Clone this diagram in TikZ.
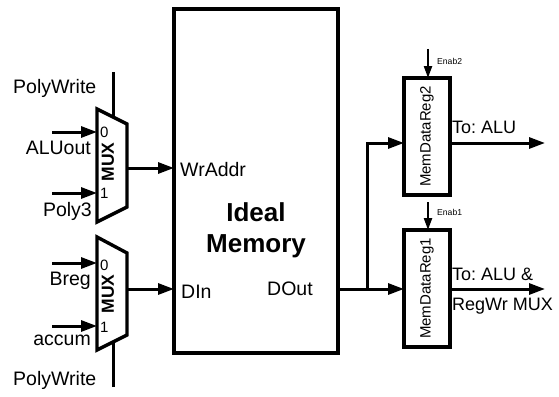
\documentclass[tikz,border=0pt]{standalone}
\usepackage{fontspec}
\setmainfont{Liberation Sans}
\usetikzlibrary{arrows.meta, positioning}
\frenchspacing
\tikzset{
  wire/.style={line width=3pt},
  ar/.style={wire, -{Triangle[length=16pt, width=11pt]}},
  en/.style={line width=2.2pt, -{Triangle[length=12pt, width=8pt]}},
  blk/.style={draw, line width=3.4pt, inner sep=0pt, outer sep=0pt},
  lbl/.style={font=\fontsize{19.5}{23}\selectfont, inner sep=0pt},
  port/.style={font=\fontsize{15}{18}\selectfont, inner sep=0pt},
  tiny lbl/.style={font=\fontsize{8.6}{10}\selectfont, inner sep=0pt},
  muxname/.style={font=\bfseries\fontsize{17.5}{20}\selectfont, rotate=90, inner sep=0pt},
  regname/.style={font=\fontsize{15}{18}\selectfont, rotate=90, inner sep=0pt}
}

\begin{document}
\begin{tikzpicture}[x=1pt, y=-1pt]
  \useasboundingbox (0,0) rectangle (559,396);

  % ---- the ideal memory
  \node[blk, minimum width=164pt, minimum height=344pt] (mem) at (256,181) {};
  \node[font=\bfseries\fontsize{26}{31}\selectfont, align=center, inner sep=0pt]
       (memname) at (256,230) {Ideal\\Memory};
  \node[lbl, anchor=base west] (wraddr) at (180,176) {WrAddr};
  \node[lbl, anchor=base west] (din)    at (181,298) {DIn};
  \node[lbl, anchor=base west] (dout)   at (267,295) {DOut};

  % ---- address mux, select on top
  \draw[blk] (97,109) -- (127,124) -- (127,207) -- (97,222) -- cycle;
  \coordinate (muxW_in0) at (97,132);
  \coordinate (muxW_in1) at (97,193);
  \coordinate (muxW_out) at (127,168);
  \coordinate (muxW_sel) at (113,117);
  \node[muxname] (muxW) at (108,162) {MUX};
  \node[port, anchor=base west] (muxW_0) at (100,137) {0};
  \node[port, anchor=base west] (muxW_1) at (100,198) {1};

  % ---- data mux, select below
  \draw[blk] (97,237) -- (127,253) -- (127,335) -- (97,350) -- cycle;
  \coordinate (muxD_in0) at (97,263);
  \coordinate (muxD_in1) at (97,326);
  \coordinate (muxD_out) at (127,289);
  \coordinate (muxD_sel) at (113,342);
  \node[muxname] (muxD) at (108,294) {MUX};
  \node[port, anchor=base west] (muxD_0) at (100,270) {0};
  \node[port, anchor=base west] (muxD_1) at (100,332) {1};

  % ---- the two memory data registers
  \node[blk, minimum width=46pt, minimum height=117pt] (mdr2) at (427,136.5) {};
  \node[regname] (mdr2txt) at (mdr2) {MemDataReg2};
  \node[blk, minimum width=46pt, minimum height=117pt] (mdr1) at (427,288.5) {};
  \node[regname] (mdr1txt) at (mdr1) {MemDataReg1};

  % ---- labels on the left
  \node[lbl, anchor=base west] (pwtop) at (13,93)  {PolyWrite};
  \node[lbl, anchor=base east] (aluout) at (91,154) {ALUout};
  \node[lbl, anchor=base east] (poly3)  at (92,216) {Poly3};
  \node[lbl, anchor=base east] (breg)   at (91,285) {Breg};
  \node[lbl, anchor=base east] (accum)  at (91,345) {accum};
  \node[lbl, anchor=base west] (pwbot) at (13,385) {PolyWrite};

  % ================= mux inputs and selects ====================================
  \coordinate (aluout_s) at (52,132);
  \coordinate (poly3_s)  at (52,193);
  \coordinate (breg_s)   at (52,263);
  \coordinate (accum_s)  at (52,326);
  \coordinate (pwtop_s)  at (113,72);
  \coordinate (pwbot_s)  at (113,387);
  \draw[ar] (aluout_s) -- (muxW_in0);
  \draw[ar] (poly3_s)  -- (muxW_in1);
  \draw[ar] (breg_s)   -- (muxD_in0);
  \draw[ar] (accum_s)  -- (muxD_in1);
  \draw[wire] (pwtop_s) -- (muxW_sel);
  \draw[wire] (pwbot_s) -- (muxD_sel);

  % ================= muxes -> memory ===========================================
  \draw[ar] (muxW_out) -- (mem.west |- muxW_out);
  \draw[ar] (muxD_out) -- (mem.west |- muxD_out);

  % ================= DOut -> both registers ====================================
  \coordinate (split)   at (367,289);
  \coordinate (mdr2_in) at (mdr2.west |- 0,143);
  \draw[wire] (mem.east |- split) -- (split);
  \draw[ar] (split) -- (mdr1.west |- split);
  \draw[ar] (split) |- (mdr2_in);

  % ================= enables ===================================================
  \coordinate (enab2_s) at (428,49);
  \coordinate (enab1_s) at (428,202);
  \draw[en] (enab2_s) -- (enab2_s |- mdr2.north);
  \draw[en] (enab1_s) -- (enab1_s |- mdr1.north);
  \node[tiny lbl, anchor=base west] (enab2) at (437,64)  {Enab2};
  \node[tiny lbl, anchor=base west] (enab1) at (437,215) {Enab1};

  % ================= register outputs ==========================================
  \coordinate (out2) at (545,143);
  \coordinate (out1) at (545,289);
  \draw[ar] (mdr2.east |- out2) -- (out2);
  \draw[ar] (mdr1.east |- out1) -- (out1);
  \node[lbl, font=\fontsize{18}{21}\selectfont, anchor=base west] (toalu)  at (452,133) {To: ALU};
  \node[lbl, font=\fontsize{18}{21}\selectfont, anchor=base west] (toalu1) at (452,280) {To: ALU \&};
  \node[lbl, font=\fontsize{18}{21}\selectfont, anchor=base west] (regwr)  at (452,310) {RegWr MUX};

\end{tikzpicture}
\end{document}
